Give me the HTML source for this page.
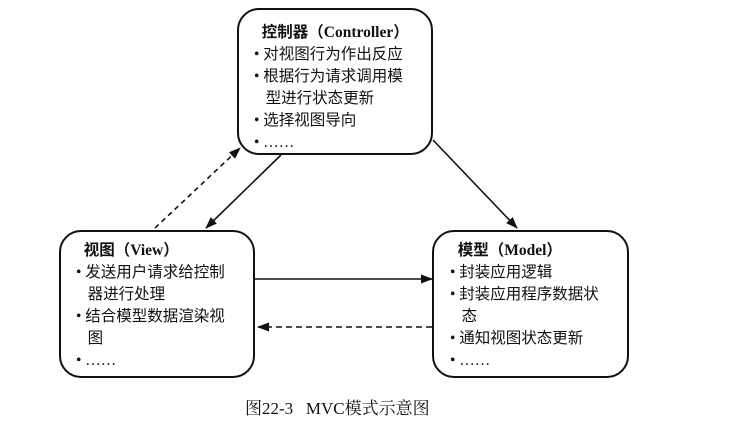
<!DOCTYPE html>
<html><head><meta charset="utf-8"><style>
body{margin:0;width:735px;height:424px;background:#fff;overflow:hidden;position:relative;font-family:"Liberation Serif","Noto Sans CJK SC",serif;color:#111}
.box{position:absolute;border:2px solid #111;border-radius:22px;box-sizing:border-box}
.t{position:absolute;font-size:15.5px;line-height:22px;white-space:nowrap}
.t b{font-weight:bold}
.cap{position:absolute;left:245px;top:394px;font-size:17px;font-family:"Liberation Serif","Noto Serif CJK SC",serif}
</style></head><body>
<svg width="735" height="424" style="position:absolute;left:0;top:0">
<defs><marker id="a" markerWidth="12" markerHeight="9" refX="11" refY="4.5" orient="auto" markerUnits="userSpaceOnUse"><path d="M0,0L12,4.5L0,9z" fill="#111"/></marker></defs>
<g stroke="#111" stroke-width="1.6" fill="none">
<line x1="281" y1="155" x2="206" y2="228" marker-end="url(#a)"/>
<line x1="155" y1="228" x2="240" y2="148" stroke-dasharray="5,4" marker-end="url(#a)"/>
<line x1="433" y1="140" x2="517" y2="228" marker-end="url(#a)"/>
<line x1="255" y1="279" x2="432" y2="279" marker-end="url(#a)"/>
<line x1="432" y1="327" x2="258" y2="327" stroke-dasharray="6,4" marker-end="url(#a)"/>
</g></svg>
<div class="box" style="left:237px;top:8px;width:196px;height:147px"></div>
<div class="box" style="left:59px;top:230px;width:196px;height:148px"></div>
<div class="box" style="left:432px;top:230px;width:197px;height:148px"></div>
<div class="t" style="left:254px;top:22px"><b>&nbsp;&nbsp;控制器（Controller）</b><br>• 对视图行为作出反应<br>• 根据行为请求调用模<br>&nbsp;&nbsp;&nbsp;型进行状态更新<br>• 选择视图导向<br>• ……</div>
<div class="t" style="left:76px;top:240px"><b>&nbsp;&nbsp;视图（View）</b><br>• 发送用户请求给控制<br>&nbsp;&nbsp;&nbsp;器进行处理<br>• 结合模型数据渲染视<br>&nbsp;&nbsp;&nbsp;图<br>• ……</div>
<div class="t" style="left:450px;top:240px"><b>&nbsp;&nbsp;模型（Model）</b><br>• 封装应用逻辑<br>• 封装应用程序数据状<br>&nbsp;&nbsp;&nbsp;态<br>• 通知视图状态更新<br>• ……</div>
<div class="cap">图22-3&nbsp;&nbsp;&nbsp;MVC模式示意图</div>
</body></html>
